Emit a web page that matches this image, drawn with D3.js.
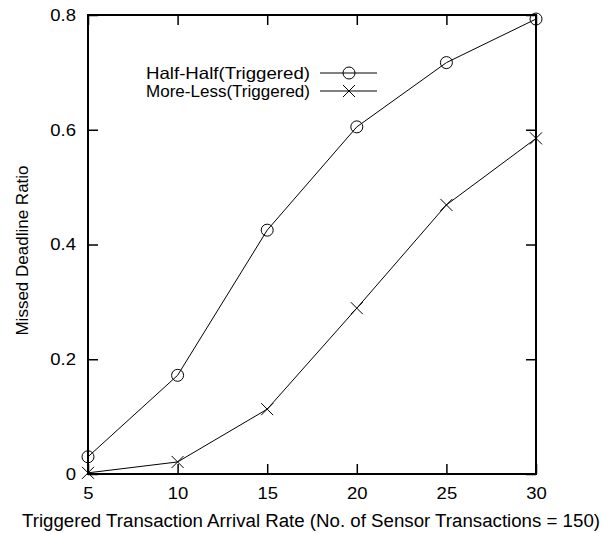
<!DOCTYPE html>
<html><head><meta charset="utf-8">
<script src="https://cdn.jsdelivr.net/npm/d3@7"></script>
<style>body{margin:0;background:#fff}svg{display:block}text{font-family:"Liberation Sans",Arial,sans-serif;fill:#000}</style>
</head><body>
<script>
const xValues = [5, 10, 15, 20, 25, 30];
const halfHalf = [0.030, 0.172, 0.425, 0.605, 0.717, 0.793];
const moreLess = [0.002, 0.021, 0.113, 0.289, 0.469, 0.585];
const seriesNames = ["Half-Half(Triggered)", "More-Less(Triggered)"];
const yTicks = [0, 0.2, 0.4, 0.6, 0.8];
const yTickLabels = ["0", "0.2", "0.4", "0.6", "0.8"];
const xTicks = [5, 10, 15, 20, 25, 30];

const W = 602, H = 533;
const m = {left: 88, right: 66, top: 15, bottom: 59};
const svg = d3.select("body").append("svg").attr("width", W).attr("height", H);
const x = d3.scaleLinear().domain([5, 30]).range([m.left, W - m.right]);
const y = d3.scaleLinear().domain([0, 0.8]).range([H - m.bottom, m.top]);
const tickFs = 16.5;

function stretch(sel, f) {
  sel.each(function() {
    const w = this.getComputedTextLength();
    d3.select(this).attr("textLength", w * f).attr("lengthAdjust", "spacingAndGlyphs");
  });
}

// axes
const gL = svg.append("g").attr("transform", `translate(${m.left},0)`)
  .call(d3.axisLeft(y).tickValues(yTicks).tickFormat((d,i)=>yTickLabels[i]).tickSizeInner(-10).tickSizeOuter(0).tickPadding(12));
const gR = svg.append("g").attr("transform", `translate(${W - m.right},0)`)
  .call(d3.axisRight(y).tickValues(yTicks).tickSizeInner(-10).tickSizeOuter(0).tickFormat(""));
const gB = svg.append("g").attr("transform", `translate(0,${H - m.bottom})`)
  .call(d3.axisBottom(x).tickValues(xTicks).tickSizeInner(-10).tickSizeOuter(0).tickPadding(13));
const gT = svg.append("g").attr("transform", `translate(0,${m.top})`)
  .call(d3.axisTop(x).tickValues(xTicks).tickSizeInner(-10).tickSizeOuter(0).tickFormat(""));
[gL, gR, gB, gT].forEach(g => {
  g.select(".domain").remove();
  g.selectAll(".tick line").attr("stroke", "#000").attr("stroke-width", 1.5);
  g.selectAll("text").attr("font-size", tickFs).attr("font-family", '"Liberation Sans",Arial,sans-serif').attr("fill", "#000");
});
gB.selectAll("text").attr("dy", "0.71em");
stretch(gL.selectAll("text"), 1.12);
stretch(gB.selectAll("text"), 1.12);

// frame
svg.append("rect").attr("x", m.left).attr("y", m.top)
  .attr("width", x(30) - x(5)).attr("height", y(0) - y(0.8))
  .attr("fill", "none").attr("stroke", "#000").attr("stroke-width", 2);

const line = d3.line().x((d, i) => x(xValues[i])).y(d => y(d));
const circleR = 6, crossS = 6;

function drawCircle(g, cx, cy) {
  g.append("circle").attr("cx", cx).attr("cy", cy).attr("r", circleR)
    .attr("fill", "none").attr("stroke", "#000").attr("stroke-width", 1);
}
function drawCross(g, cx, cy) {
  g.append("path").attr("d", `M${cx-crossS},${cy-crossS}L${cx+crossS},${cy+crossS}M${cx-crossS},${cy+crossS}L${cx+crossS},${cy-crossS}`)
    .attr("stroke", "#000").attr("stroke-width", 1).attr("fill", "none");
}

const series = [
  {vals: halfHalf, marker: drawCircle},
  {vals: moreLess, marker: drawCross}
];
series.forEach(s => {
  svg.append("path").attr("d", line(s.vals)).attr("fill", "none").attr("stroke", "#000").attr("stroke-width", 1);
  const g = svg.append("g");
  s.vals.forEach((v, i) => s.marker(g, x(xValues[i]), y(v)));
});

// legend
const legTextX = 310, legLineX1 = 320, legLineX2 = 377, legY = [73, 91];
series.forEach((s, i) => {
  svg.append("text").attr("x", legTextX).attr("y", legY[i] + 6)
    .attr("text-anchor", "end").attr("font-size", 16.5)
    .attr("textLength", 164).attr("lengthAdjust", "spacingAndGlyphs").text(seriesNames[i]);
  svg.append("line").attr("x1", legLineX1).attr("x2", legLineX2).attr("y1", legY[i]).attr("y2", legY[i])
    .attr("stroke", "#000").attr("stroke-width", 1);
  s.marker(svg, 349, legY[i]);
});

// axis titles
svg.append("text").attr("x", 311).attr("y", 527)
  .attr("text-anchor", "middle").attr("font-size", 18)
  .attr("textLength", 578).attr("lengthAdjust", "spacingAndGlyphs")
  .text("Triggered Transaction Arrival Rate (No. of Sensor Transactions = 150)");
svg.append("text").attr("transform", `translate(28,${(y(0) + y(0.8)) / 2 + 6}) rotate(-90)`)
  .attr("text-anchor", "middle").attr("font-size", 17).text("Missed Deadline Ratio");
</script>
</body></html>
